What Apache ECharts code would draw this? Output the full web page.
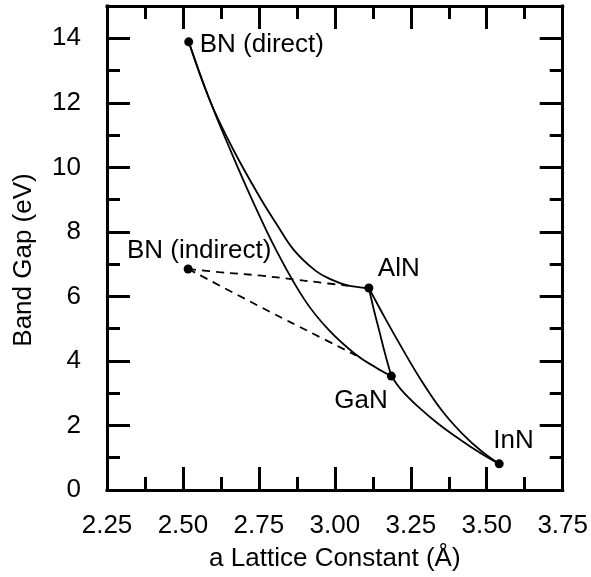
<!DOCTYPE html>
<html><head><meta charset="utf-8">
<script src="https://cdn.jsdelivr.net/npm/echarts@6/dist/echarts.min.js"></script>
<style>html,body{margin:0;padding:0;background:#fff}#c{width:591px;height:577px}</style>
</head><body><div id="c"></div>
<script>
// ---- data ----
const compoundNames = ['BN (direct)', 'BN (indirect)', 'AlN', 'GaN', 'InN'];
const compoundA     = [2.519, 2.517, 3.112, 3.186, 3.541];
const compoundGap   = [13.89, 6.85, 6.26, 3.53, 0.81];

const xTicks = [2.25, 2.50, 2.75, 3.00, 3.25, 3.50, 3.75];
const yTicks = [0, 2, 4, 6, 8, 10, 12, 14];

const curveBNtoAlN = [[2.519,13.89],[2.587,12.11],[2.665,10.56],[2.757,9.01],[2.809,8.23],[2.864,7.45],[2.936,6.80],[2.989,6.52],[3.038,6.35],[3.083,6.28],[3.112,6.26]];
const curveBNtoGaN = [[2.519,13.89],[2.587,12.11],[2.655,10.56],[2.727,9.01],[2.806,7.45],[2.900,5.90],[2.979,4.97],[3.070,4.19],[3.136,3.79],[3.186,3.53]];
const curveAlNtoGaN = [[3.112,6.26],[3.128,5.60],[3.147,4.90],[3.166,4.20],[3.186,3.53]];
const curveAlNtoInN = [[3.112,6.26],[3.168,5.28],[3.224,4.35],[3.283,3.42],[3.351,2.48],[3.420,1.74],[3.482,1.21],[3.541,0.81]];
const curveGaNtoInN = [[3.186,3.53],[3.218,3.11],[3.273,2.59],[3.338,2.07],[3.414,1.55],[3.480,1.14],[3.541,0.81]];
const dashIndToAlN = [[2.517,6.85],[2.619,6.75],[2.750,6.65],[2.871,6.52],[2.979,6.40],[3.044,6.33]];
const dashIndToGaN = [[2.517,6.85],[2.793,5.49],[2.913,4.92],[3.070,4.17]];

// ---- styling ----
const FONT = '"Liberation Sans", Arial, Helvetica, sans-serif';
const BLACK = '#000';
const lineAxis = { onZero: false, lineStyle: { color: BLACK, width: 3, cap: 'square' } };

function xAx(pos, withLabels) {
  return {
    type: 'value', position: pos, min: xTicks[0], max: xTicks[xTicks.length - 1],
    interval: 0.25,
    axisLine: lineAxis,
    axisTick: { show: true, inside: true, length: 23, lineStyle: { color: BLACK, width: 3 } },
    minorTick: { show: true, splitNumber: 2, length: 13, lineStyle: { color: BLACK, width: 3 } },
    splitLine: { show: false }, minorSplitLine: { show: false },
    axisLabel: { show: withLabels, fontSize: 26, color: BLACK, fontFamily: FONT, margin: 23,
      formatter: v => (xTicks.some(t => Math.abs(t - v) < 1e-6) ? v.toFixed(2) : '') },
    name: withLabels ? 'a Lattice Constant (Å)' : '',
    nameLocation: 'middle', nameGap: 56,
    nameTextStyle: { fontSize: 26, color: BLACK, fontFamily: FONT }
  };
}
function yAx(pos, interval, tickLen, showLine, withLabels) {
  return {
    type: 'value', position: pos, min: 0, max: 15, interval: interval,
    axisLine: Object.assign({}, lineAxis, { show: showLine }),
    axisTick: { show: true, inside: true, length: tickLen, lineStyle: { color: BLACK, width: 3 } },
    splitLine: { show: false },
    axisLabel: { show: withLabels, fontSize: 26, color: BLACK, fontFamily: FONT, margin: 26,
      formatter: v => (yTicks.indexOf(v) >= 0 ? String(v) : '') },
    name: withLabels ? 'Band Gap (eV)' : '',
    nameLocation: 'middle', nameGap: 70,
    nameTextStyle: { fontSize: 26, color: BLACK, fontFamily: FONT, padding: [0, 24, 0, 0] }
  };
}

const labelPlacement = [
  { dx: 11, dy: 3, align: 'left' },
  { dx: 11, dy: -18, align: 'center' },
  { dx: 9, dy: -19.5, align: 'left' },
  { dx: -57, dy: 25, align: 'left' },
  { dx: -6, dy: -23, align: 'left' }
];
const SYM = 9;

function curve(data, dashed) {
  return {
    type: 'line', data: data, showSymbol: false, symbol: 'none', smooth: 0.4,
    xAxisIndex: 0, yAxisIndex: 0, silent: true, z: 2,
    lineStyle: { color: BLACK, width: 1.8, type: dashed ? [8, 6] : 'solid' }
  };
}

const pointData = compoundNames.map((n, i) => ({
  value: [compoundA[i], compoundGap[i]],
  name: n,
  label: {
    show: true, formatter: n, position: [SYM / 2 + labelPlacement[i].dx, SYM / 2 + labelPlacement[i].dy],
    align: labelPlacement[i].align, verticalAlign: 'middle',
    fontSize: 26, color: BLACK, fontFamily: FONT, textBorderWidth: 0, textShadowBlur: 0, opacity: 1
  }
}));

const option = {
  animation: false,
  backgroundColor: '#fff',
  grid: { left: 107, right: 25, top: 6, bottom: 87, containLabel: false },
  xAxis: [xAx('bottom', true), xAx('top', false)],
  yAxis: [yAx('left', 2, 23, true, true), yAx('left', 1, 13, false, false),
          yAx('right', 2, 23, true, false), yAx('right', 1, 13, false, false)],
  series: [
    curve(curveBNtoAlN, false), curve(curveBNtoGaN, false), curve(curveAlNtoGaN, false),
    curve(curveAlNtoInN, false), curve(curveGaNtoInN, false),
    curve(dashIndToAlN, true), curve(dashIndToGaN, true),
    { type: 'scatter', data: pointData, symbol: 'circle', symbolSize: SYM,
      itemStyle: { color: BLACK, opacity: 1 }, xAxisIndex: 0, yAxisIndex: 0, z: 5, silent: true }
  ]
};
const chart = echarts.init(document.getElementById('c'));
chart.setOption(option);
</script></body></html>
